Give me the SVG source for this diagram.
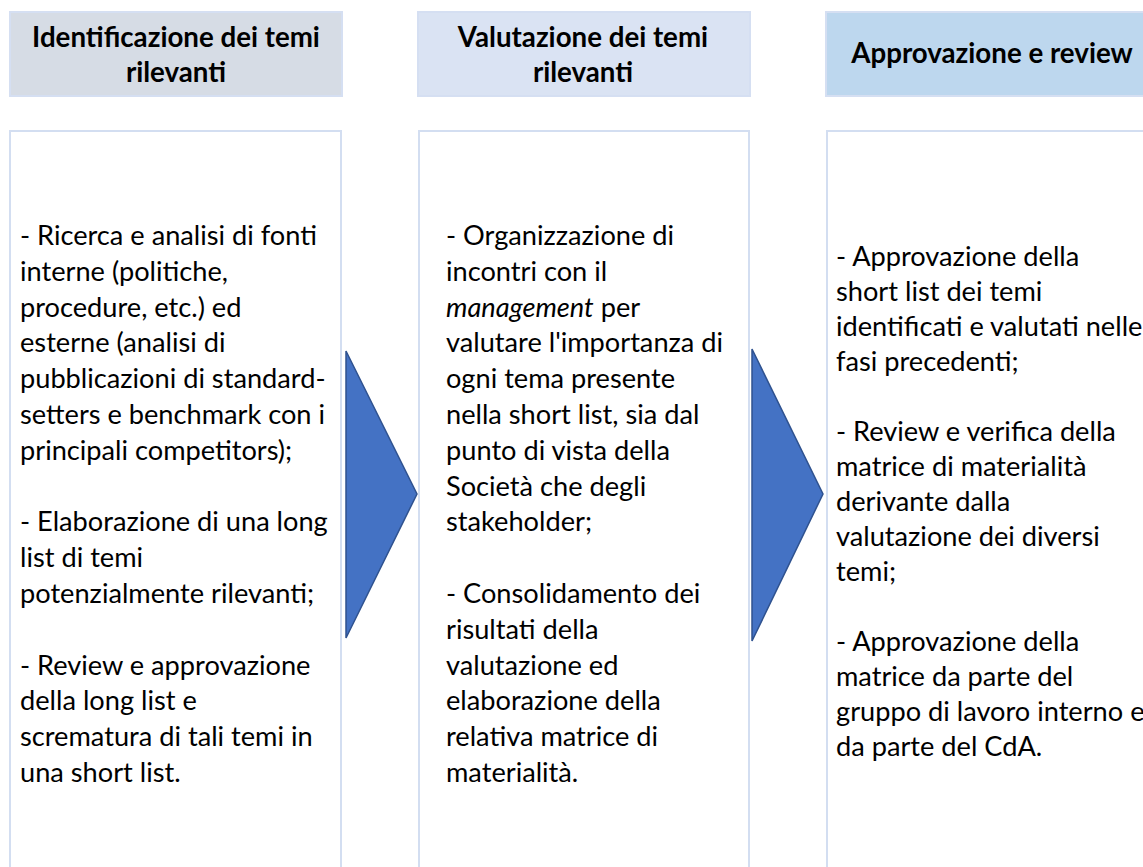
<svg xmlns="http://www.w3.org/2000/svg" width="1143" height="867" viewBox="0 0 1143 867">
<style>
.hdr{stroke:#D5DFF2;stroke-width:2}
.box{fill:#FFFFFF;stroke:#D3DEF1;stroke-width:2}
.ht{font-family:Lato,"Liberation Sans",sans-serif;font-weight:bold;font-size:27.7px;fill:#000;text-anchor:middle}
.bt{font-family:Lato,"Liberation Sans",sans-serif;font-size:27.2px;fill:#000}
.arr{fill:#4472C4;stroke:#2F528F;stroke-width:1.5;stroke-linejoin:miter}
</style>
<rect width="1143" height="867" fill="#FFFFFF"/>
<g id="header1">
<rect class="hdr" x="10" y="12" width="332" height="84" fill="#D6DCE5"/>
<text class="ht" x="176" y="47">Identificazione dei temi</text>
<text class="ht" x="176" y="82">rilevanti</text>
</g>
<g id="header2">
<rect class="hdr" x="418" y="12" width="332" height="84" fill="#DAE3F3"/>
<text class="ht" x="583" y="47">Valutazione dei temi</text>
<text class="ht" x="583" y="82">rilevanti</text>
</g>
<g id="header3">
<rect class="hdr" x="826" y="12" width="332" height="84" fill="#BDD7EE"/>
<text class="ht" x="992" y="63">Approvazione e review</text>
</g>
<g id="box1">
<rect class="box" x="10" y="131" width="331" height="780"/>
<text class="bt" x="20">
<tspan x="20" y="245">- Ricerca e analisi di fonti</tspan>
<tspan x="20" y="280.8">interne (politiche,</tspan>
<tspan x="20" y="316.6">procedure, etc.) ed</tspan>
<tspan x="20" y="352.4">esterne (analisi di</tspan>
<tspan x="20" y="388.2">pubblicazioni di standard-</tspan>
<tspan x="20" y="424">setters e benchmark con i</tspan>
<tspan x="20" y="459.8">principali competitors);</tspan>
<tspan x="20" y="531.4">- Elaborazione di una long</tspan>
<tspan x="20" y="567.2">list di temi</tspan>
<tspan x="20" y="603">potenzialmente rilevanti;</tspan>
<tspan x="20" y="674.6">- Review e approvazione</tspan>
<tspan x="20" y="710.4">della long list e</tspan>
<tspan x="20" y="746.2">scrematura di tali temi in</tspan>
<tspan x="20" y="782">una short list.</tspan>
</text>
</g>
<g id="box2">
<rect class="box" x="419" y="131" width="330" height="780"/>
<text class="bt" x="446">
<tspan x="446" y="245">- Organizzazione di</tspan>
<tspan x="446" y="280.8">incontri con il</tspan>
<tspan x="446" y="316.6"><tspan font-style="italic">management</tspan> per</tspan>
<tspan x="446" y="352.4">valutare l'importanza di</tspan>
<tspan x="446" y="388.2">ogni tema presente</tspan>
<tspan x="446" y="424">nella short list, sia dal</tspan>
<tspan x="446" y="459.8">punto di vista della</tspan>
<tspan x="446" y="495.6">Società che degli</tspan>
<tspan x="446" y="531.4">stakeholder;</tspan>
<tspan x="446" y="603">- Consolidamento dei</tspan>
<tspan x="446" y="638.8">risultati della</tspan>
<tspan x="446" y="674.6">valutazione ed</tspan>
<tspan x="446" y="710.4">elaborazione della</tspan>
<tspan x="446" y="746.2">relativa matrice di</tspan>
<tspan x="446" y="782">materialità.</tspan>
</text>
</g>
<g id="box3">
<rect class="box" x="827" y="131" width="340" height="780"/>
<text class="bt" x="836">
<tspan x="836" y="266">- Approvazione della</tspan>
<tspan x="836" y="301">short list dei temi</tspan>
<tspan x="836" y="336">identificati e valutati nelle</tspan>
<tspan x="836" y="371">fasi precedenti;</tspan>
<tspan x="836" y="441">- Review e verifica della</tspan>
<tspan x="836" y="476">matrice di materialità</tspan>
<tspan x="836" y="511">derivante dalla</tspan>
<tspan x="836" y="546">valutazione dei diversi</tspan>
<tspan x="836" y="581">temi;</tspan>
<tspan x="836" y="651">- Approvazione della</tspan>
<tspan x="836" y="686">matrice da parte del</tspan>
<tspan x="836" y="721">gruppo di lavoro interno e</tspan>
<tspan x="836" y="756">da parte del CdA.</tspan>
</text>
</g>
<g id="connectors">
<polygon class="arr" points="346,351 417,494 346,638"/>
<polygon class="arr" points="752,349 823,494 752,641"/>
</g>
</svg>
